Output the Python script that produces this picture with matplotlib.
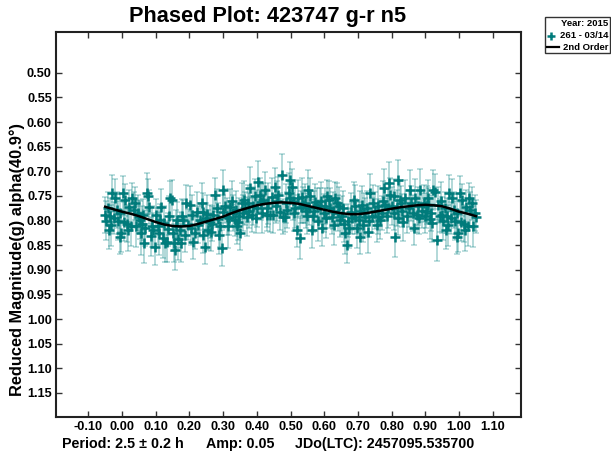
import numpy as np
import matplotlib
matplotlib.use("Agg")
import matplotlib.pyplot as plt
from matplotlib.lines import Line2D
from matplotlib.patches import Rectangle

plt.rcParams['font.family'] = ['Liberation Sans', 'DejaVu Sans']
plt.rcParams['font.weight'] = 'bold'

# phased observations (one cycle, 0..1)
phase = [
    0.002, 0.006, 0.010, 0.014, 0.018, 0.022, 0.026, 0.030, 0.034, 0.038, 0.042, 0.046, 0.049,
    0.052, 0.055, 0.058, 0.062, 0.065, 0.069, 0.073, 0.077, 0.081, 0.085, 0.088, 0.092, 0.097,
    0.102, 0.106, 0.110, 0.113, 0.117, 0.122, 0.125, 0.128, 0.132, 0.136, 0.140, 0.143, 0.147,
    0.151, 0.154, 0.157, 0.160, 0.163, 0.167, 0.171, 0.174, 0.178, 0.182, 0.186, 0.190, 0.195,
    0.202, 0.204, 0.207, 0.212, 0.216, 0.221, 0.226, 0.231, 0.236, 0.239, 0.241, 0.246, 0.249,
    0.253, 0.256, 0.261, 0.265, 0.268, 0.271, 0.276, 0.281, 0.285, 0.288, 0.291, 0.296, 0.299,
    0.301, 0.305, 0.310, 0.315, 0.318, 0.320, 0.325, 0.330, 0.335, 0.338, 0.340, 0.345, 0.348,
    0.350, 0.355, 0.358, 0.362, 0.365, 0.370, 0.375, 0.378, 0.380, 0.385, 0.389, 0.394, 0.397,
    0.400, 0.404, 0.409, 0.413, 0.416, 0.419, 0.424, 0.429, 0.431, 0.434, 0.439, 0.444, 0.448,
    0.454, 0.457, 0.461, 0.464, 0.469, 0.474, 0.479, 0.484, 0.488, 0.491, 0.494, 0.497, 0.499,
    0.504, 0.507, 0.510, 0.513, 0.518, 0.523, 0.528, 0.531, 0.535, 0.538, 0.543, 0.546, 0.549,
    0.553, 0.556, 0.558, 0.563, 0.566, 0.569, 0.573, 0.578, 0.583, 0.587, 0.590, 0.593, 0.598,
    0.602, 0.605, 0.608, 0.613, 0.618, 0.623, 0.627, 0.630, 0.633, 0.638, 0.642, 0.645, 0.648,
    0.652, 0.655, 0.658, 0.663, 0.668, 0.672, 0.675, 0.678, 0.683, 0.687, 0.690, 0.692, 0.697,
    0.702, 0.705, 0.707, 0.712, 0.715, 0.718, 0.722, 0.727, 0.731, 0.734, 0.737, 0.742, 0.746,
    0.752, 0.756, 0.759, 0.761, 0.766, 0.770, 0.773, 0.776, 0.781, 0.785, 0.788, 0.791, 0.796,
    0.802, 0.806, 0.808, 0.811, 0.815, 0.818, 0.820, 0.825, 0.829, 0.832, 0.835, 0.840, 0.845,
    0.851, 0.855, 0.858, 0.862, 0.865, 0.870, 0.875, 0.879, 0.882, 0.885, 0.889, 0.895, 0.898,
    0.902, 0.904, 0.907, 0.909, 0.914, 0.918, 0.921, 0.924, 0.929, 0.934, 0.939, 0.944, 0.947,
    0.950, 0.953, 0.957, 0.960, 0.963, 0.966, 0.969, 0.975, 0.978, 0.984, 0.988, 0.993, 0.995, 0.998,
]
mag = [
    0.745, 0.802, 0.758, 0.806, 0.819, 0.772, 0.812, 0.755, 0.779, 0.765, 0.812, 0.785, 0.792,
    0.799, 0.826, 0.806, 0.789, 0.846, 0.815, 0.745, 0.751, 0.772, 0.832, 0.812, 0.819, 0.853,
    0.789, 0.812, 0.826, 0.798, 0.772, 0.836, 0.805, 0.846, 0.843, 0.818, 0.790, 0.755, 0.758,
    0.826, 0.846, 0.860, 0.812, 0.799, 0.838, 0.819, 0.846, 0.790, 0.799, 0.829, 0.765, 0.808,
    0.768, 0.815, 0.789, 0.843, 0.825, 0.782, 0.808, 0.799, 0.765, 0.830, 0.782, 0.853, 0.795,
    0.786, 0.819, 0.802, 0.823, 0.806, 0.789, 0.748, 0.775, 0.797, 0.830, 0.812, 0.856, 0.782,
    0.738, 0.770, 0.792, 0.812, 0.795, 0.772, 0.760, 0.785, 0.799, 0.778, 0.812, 0.802, 0.790,
    0.826, 0.765, 0.785, 0.758, 0.775, 0.792, 0.765, 0.780, 0.734, 0.789, 0.770, 0.751, 0.795,
    0.775, 0.721, 0.748, 0.762, 0.785, 0.758, 0.738, 0.775, 0.789, 0.765, 0.789, 0.752, 0.789,
    0.731, 0.770, 0.760, 0.748, 0.782, 0.707, 0.792, 0.792, 0.765, 0.778, 0.745, 0.755, 0.718,
    0.731, 0.760, 0.785, 0.775, 0.819, 0.755, 0.836, 0.772, 0.752, 0.768, 0.765, 0.780, 0.790,
    0.738, 0.775, 0.751, 0.819, 0.790, 0.780, 0.762, 0.768, 0.800, 0.770, 0.760, 0.816, 0.785,
    0.770, 0.795, 0.751, 0.758, 0.775, 0.792, 0.780, 0.810, 0.755, 0.765, 0.785, 0.770, 0.799,
    0.790, 0.775, 0.806, 0.826, 0.850, 0.800, 0.815, 0.782, 0.795, 0.758, 0.770, 0.792, 0.816,
    0.799, 0.780, 0.833, 0.768, 0.810, 0.785, 0.792, 0.775, 0.823, 0.800, 0.745, 0.790, 0.765,
    0.780, 0.809, 0.770, 0.792, 0.799, 0.785, 0.760, 0.734, 0.768, 0.790, 0.775, 0.724, 0.748,
    0.770, 0.751, 0.785, 0.833, 0.775, 0.795, 0.718, 0.758, 0.765, 0.780, 0.802, 0.755, 0.790,
    0.775, 0.738, 0.765, 0.785, 0.816, 0.755, 0.789, 0.770, 0.795, 0.738, 0.780, 0.765, 0.790,
    0.780, 0.768, 0.755, 0.768, 0.796, 0.785, 0.805, 0.738, 0.741, 0.840, 0.768, 0.790, 0.760,
    0.789, 0.800, 0.775, 0.819, 0.790, 0.810, 0.745, 0.795, 0.755, 0.779, 0.800, 0.833, 0.785, 0.826,
]
err = [
    0.036, 0.040, 0.033, 0.038, 0.042, 0.035, 0.039, 0.031, 0.037, 0.034, 0.041, 0.036, 0.033,
    0.038, 0.043, 0.035, 0.032, 0.040, 0.037, 0.042, 0.036, 0.034, 0.039, 0.041, 0.035, 0.038,
    0.033, 0.037, 0.044, 0.031, 0.036, 0.040, 0.035, 0.038, 0.042, 0.034, 0.039, 0.036, 0.041,
    0.035, 0.038, 0.040, 0.033, 0.037, 0.042, 0.036, 0.039, 0.034, 0.041, 0.035, 0.038, 0.032,
    0.039, 0.035, 0.041, 0.036, 0.033, 0.040, 0.037, 0.034, 0.042, 0.036, 0.038, 0.035, 0.031,
    0.037, 0.040, 0.034, 0.038, 0.036, 0.041, 0.035, 0.039, 0.033, 0.037, 0.042, 0.036, 0.034,
    0.040, 0.035, 0.038, 0.043, 0.034, 0.037, 0.041, 0.036, 0.032, 0.039, 0.035, 0.038, 0.036,
    0.034, 0.041, 0.036, 0.038, 0.033, 0.040, 0.037, 0.035, 0.042, 0.034, 0.039, 0.036, 0.031,
    0.038, 0.042, 0.035, 0.037, 0.040, 0.034, 0.036, 0.039, 0.033, 0.041, 0.035, 0.038, 0.036,
    0.037, 0.034, 0.040, 0.036, 0.038, 0.043, 0.035, 0.032, 0.039, 0.037, 0.041, 0.034, 0.036,
    0.035, 0.039, 0.036, 0.041, 0.034, 0.037, 0.042, 0.033, 0.038, 0.036, 0.040, 0.035, 0.037,
    0.041, 0.035, 0.038, 0.036, 0.033, 0.040, 0.037, 0.034, 0.042, 0.036, 0.039, 0.035, 0.038,
    0.036, 0.040, 0.034, 0.038, 0.041, 0.035, 0.037, 0.039, 0.033, 0.042, 0.036, 0.038, 0.035,
    0.039, 0.035, 0.037, 0.041, 0.036, 0.034, 0.040, 0.038, 0.033, 0.037, 0.042, 0.035, 0.039,
    0.036, 0.041, 0.035, 0.038, 0.034, 0.040, 0.037, 0.036, 0.042, 0.033, 0.039, 0.035, 0.038,
    0.037, 0.034, 0.040, 0.036, 0.039, 0.035, 0.041, 0.038, 0.033, 0.036, 0.040, 0.043, 0.035,
    0.039, 0.036, 0.034, 0.041, 0.037, 0.035, 0.042, 0.038, 0.036, 0.033, 0.040, 0.037, 0.035,
    0.038, 0.041, 0.035, 0.037, 0.034, 0.040, 0.036, 0.039, 0.033, 0.042, 0.035, 0.038, 0.036,
    0.035, 0.039, 0.037, 0.034, 0.041, 0.036, 0.038, 0.040, 0.035, 0.043, 0.037, 0.034, 0.039,
    0.036, 0.040, 0.034, 0.038, 0.035, 0.041, 0.037, 0.033, 0.039, 0.036, 0.040, 0.035, 0.038, 0.037,
]

# 2nd order Fourier fit, sampled along the plotted phase range
curve_phase = [
    -0.050, -0.025, 0.000, 0.025, 0.050, 0.075, 0.100, 0.125, 0.150, 0.175,
    0.200, 0.225, 0.250, 0.275, 0.300, 0.325, 0.350, 0.375, 0.400, 0.425,
    0.450, 0.475, 0.500, 0.525, 0.550, 0.575, 0.600, 0.625, 0.650, 0.675,
    0.700, 0.725, 0.750, 0.775, 0.800, 0.825, 0.850, 0.875, 0.900, 0.925,
    0.950, 0.975, 1.000, 1.025, 1.050,
]
curve_mag = [
    0.772, 0.777, 0.782, 0.786, 0.791, 0.797, 0.803, 0.808, 0.811, 0.812,
    0.811, 0.807, 0.802, 0.797, 0.792, 0.785, 0.779, 0.774, 0.769, 0.766,
    0.764, 0.763, 0.764, 0.766, 0.770, 0.774, 0.778, 0.782, 0.785, 0.787,
    0.787, 0.785, 0.782, 0.779, 0.776, 0.773, 0.771, 0.769, 0.768, 0.769,
    0.771, 0.776, 0.782, 0.786, 0.791,
]

xticks = [-0.10, 0.00, 0.10, 0.20, 0.30, 0.40, 0.50, 0.60, 0.70, 0.80, 0.90, 1.00, 1.10]
yticks = [0.50, 0.55, 0.60, 0.65, 0.70, 0.75, 0.80, 0.85, 0.90, 0.95, 1.00, 1.05, 1.10, 1.15]

ph = np.array(phase)
mg = np.array(mag)
er = np.array(err)
# repeat the ends of the cycle so the plot runs from -0.05 to 1.05
lo = ph >= 0.95
hi = ph < 0.05
ph_all = np.concatenate([ph[lo] - 1.0, ph, ph[hi] + 1.0])
mg_all = np.concatenate([mg[lo], mg, mg[hi]])
er_all = np.concatenate([er[lo], er, er[hi]])

W, H = 611, 454
fig = plt.figure(figsize=(W / 100, H / 100), dpi=100)
fig.patch.set_facecolor('white')

def fx(px):
    return px / W

def fy(py):
    return 1 - py / H

ax = fig.add_axes([fx(56), fy(417), fx(521) - fx(56), fy(32) - fy(417)])

teal = '#007b7b'
ax.errorbar(ph_all, mg_all, yerr=er_all, fmt='none', ecolor=(0.0, 0.5, 0.5, 0.3),
            elinewidth=1.4, capsize=2.2, capthick=1.2, zorder=2)
ax.plot(ph_all, mg_all, '+', color=teal, ms=6.5, mew=1.8, zorder=3)
ax.plot(curve_phase, curve_mag, color='black', lw=1.8, zorder=5)

ax.set_xlim(-0.196, 1.184)
ax.set_ylim(1.199, 0.417)
ax.set_xticks(xticks)
ax.set_xticklabels(['%.2f' % v for v in xticks])
ax.set_yticks(yticks)
ax.set_yticklabels(['%.2f' % v for v in yticks])
ax.tick_params(direction='in', length=4, width=1, top=True, right=True,
               labelsize=9.2, pad=3, color='#333333')
for lab in ax.get_xticklabels() + ax.get_yticklabels():
    lab.set_fontweight('bold')
for s in ax.spines.values():
    s.set_linewidth(1.5)
    s.set_color('#222222')

fig.text(fx(268), fy(16.5), 'Phased Plot: 423747 g-r n5', ha='center', va='center',
         fontsize=15.7, fontweight='bold')
fig.text(fx(17), fy(259), 'Reduced Magnitude(g) alpha(40.9\u00b0)', rotation=90,
         ha='center', va='center', fontsize=11.8, fontweight='bold')

fig.text(fx(62), fy(444), 'Period: 2.5 \u00b1 0.2 h', ha='left', va='center',
         fontsize=10.3, fontweight='bold')
fig.text(fx(206), fy(444), 'Amp: 0.05', ha='left', va='center',
         fontsize=10.3, fontweight='bold')
fig.text(fx(295), fy(444), 'JDo(LTC): 2457095.535700', ha='left', va='center',
         fontsize=10.3, fontweight='bold')

# legend box in the top right corner
fig.patches.append(Rectangle((fx(545), fy(53)), fx(610) - fx(545), fy(17) - fy(53),
                             transform=fig.transFigure, facecolor='white',
                             edgecolor='#333333', lw=1.0))
fig.text(fx(608.5), fy(24), 'Year: 2015', ha='right', va='center', fontsize=6.8,
         fontweight='bold')
fig.text(fx(608.5), fy(35.5), '261 - 03/14', ha='right', va='center', fontsize=6.8,
         fontweight='bold')
fig.text(fx(608.5), fy(47), '2nd Order', ha='right', va='center', fontsize=6.8,
         fontweight='bold')
fig.lines.append(Line2D([fx(551)], [fy(35.5)], transform=fig.transFigure, marker='+',
                        color=teal, ms=6, mew=1.8, ls='none'))
fig.lines.append(Line2D([fx(546.5), fx(559)], [fy(47), fy(47)], transform=fig.transFigure,
                        color='black', lw=1.6))

fig.savefig('out.png', dpi=100)
